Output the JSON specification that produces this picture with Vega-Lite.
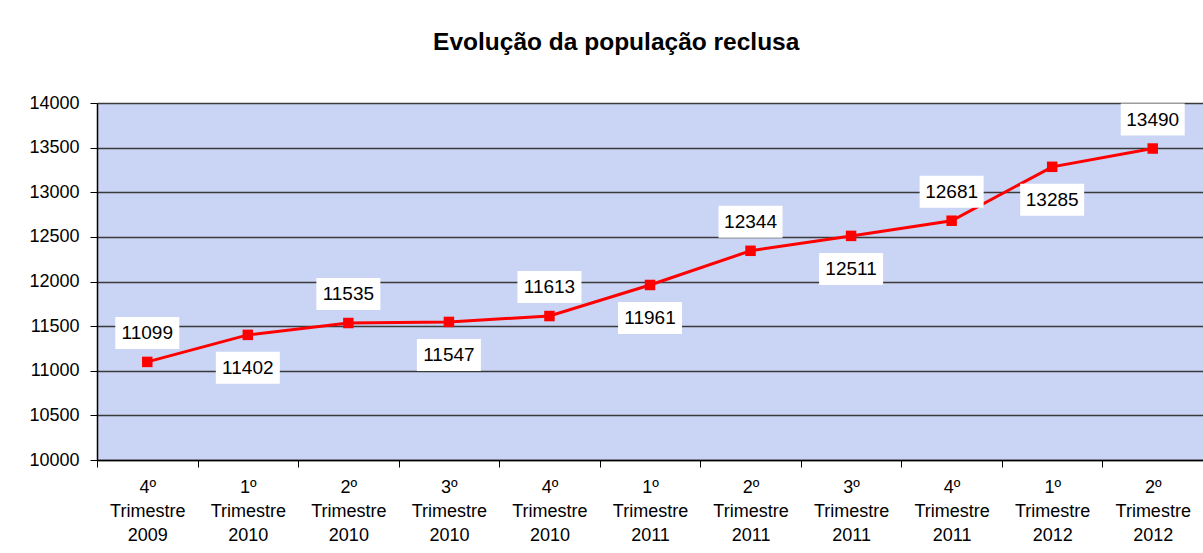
{
  "$schema": "https://vega.github.io/schema/vega-lite/v6.json",
  "width": 1106,
  "height": 357,
  "autosize": {"type": "none"},
  "padding": {"left": 97, "top": 103, "right": 0, "bottom": 93},
  "background": "white",
  "config": {
    "font": "Liberation Sans",
    "view": {"fill": "#cad4f4", "stroke": null}
  },
  "title": {
    "text": "Evolução da população reclusa",
    "fontSize": 24.5,
    "fontWeight": "bold",
    "font": "Liberation Sans",
    "color": "black",
    "anchor": "middle",
    "frame": "bounds",
    "offset": 39
  },
  "data": {
    "values": [
      {"periodo": "4º|Trimestre|2009", "reclusos": 11099},
      {"periodo": "1º|Trimestre|2010", "reclusos": 11402},
      {"periodo": "2º|Trimestre|2010", "reclusos": 11535},
      {"periodo": "3º|Trimestre|2010", "reclusos": 11547},
      {"periodo": "4º|Trimestre|2010", "reclusos": 11613},
      {"periodo": "1º|Trimestre|2011", "reclusos": 11961},
      {"periodo": "2º|Trimestre|2011", "reclusos": 12344},
      {"periodo": "3º|Trimestre|2011", "reclusos": 12511},
      {"periodo": "4º|Trimestre|2011", "reclusos": 12681},
      {"periodo": "1º|Trimestre|2012", "reclusos": 13285},
      {"periodo": "2º|Trimestre|2012", "reclusos": 13490}
    ]
  },
  "transform": [
    {"window": [{"op": "row_number", "as": "n"}]}
  ],
  "encoding": {
    "x": {
      "field": "periodo",
      "type": "nominal",
      "sort": null,
      "scale": {"paddingInner": 0, "paddingOuter": 0},
      "axis": {
        "title": null,
        "labelAngle": 0,
        "labelExpr": "split(datum.label, '|')",
        "labelFontSize": 18,
        "labelColor": "black",
        "labelLineHeight": 24,
        "labelPadding": 11,
        "labelBaseline": "top",
        "domainColor": "black",
        "domainWidth": 1.5,
        "tickColor": "black",
        "tickSize": 7,
        "tickBand": "extent",
        "grid": false
      }
    },
    "y": {
      "field": "reclusos",
      "type": "quantitative",
      "scale": {"domain": [10000, 14000], "nice": false, "zero": false},
      "axis": {
        "title": null,
        "values": [10000, 10500, 11000, 11500, 12000, 12500, 13000, 13500, 14000],
        "format": "d",
        "labelFontSize": 18,
        "labelColor": "black",
        "labelPadding": 11,
        "domainColor": "black",
        "domainWidth": 1.5,
        "tickColor": "black",
        "tickSize": 7,
        "grid": true,
        "gridColor": "#3a3a3a",
        "gridWidth": 1.3,
        "gridOpacity": 1
      }
    }
  },
  "layer": [
    {
      "mark": {"type": "line", "color": "#ff0000", "strokeWidth": 3}
    },
    {
      "mark": {"type": "square", "color": "#ff0000", "filled": true, "opacity": 1, "size": 110}
    },
    {
      "transform": [{"filter": "datum.n % 2 == 1"}],
      "layer": [
        {"mark": {"type": "rect", "color": "white", "opacity": 1, "width": 64, "height": 32, "yOffset": -29}},
        {"mark": {"type": "text", "fontSize": 19, "color": "black", "yOffset": -29}, "encoding": {"text": {"field": "reclusos", "type": "quantitative", "format": "d"}}}
      ]
    },
    {
      "transform": [{"filter": "datum.n % 2 == 0"}],
      "layer": [
        {"mark": {"type": "rect", "color": "white", "opacity": 1, "width": 64, "height": 32, "yOffset": 33}},
        {"mark": {"type": "text", "fontSize": 19, "color": "black", "yOffset": 33}, "encoding": {"text": {"field": "reclusos", "type": "quantitative", "format": "d"}}}
      ]
    }
  ]
}
